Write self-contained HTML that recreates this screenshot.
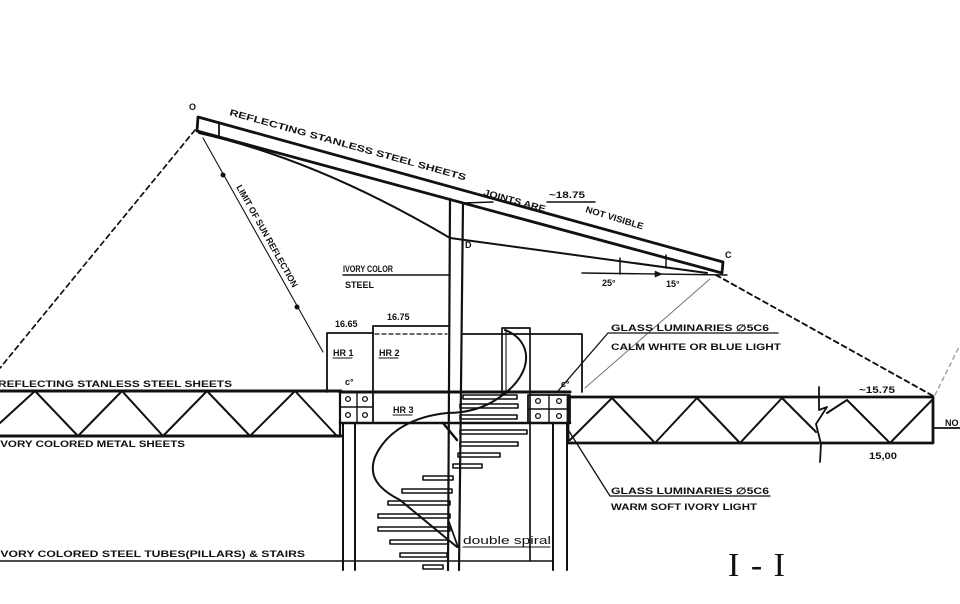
<!DOCTYPE html>
<html><head><meta charset="utf-8"><style>
html,body{margin:0;padding:0;background:#fff;}
svg{display:block;}
text{font-family:"Liberation Sans",sans-serif;fill:#111;}
.t{font-size:9px;font-weight:bold;}
</style></head><body>
<svg width="960" height="604" viewBox="0 0 960 604" xmlns="http://www.w3.org/2000/svg">
<rect width="960" height="604" fill="#fff"/>
<g stroke="#111" fill="none" stroke-linecap="round" stroke-linejoin="round">
<!-- roof -->
<polygon points="198,117 723,262 722,273 197,131" stroke-width="2.8"/>
<line x1="219" y1="123" x2="219" y2="137" stroke-width="1.8"/>
<!-- cable -->
<path d="M199,133 Q318,160 450,238 L707,273" stroke-width="2"/>
<!-- mast -->
<line x1="450" y1="199" x2="448" y2="570" stroke-width="2.2"/>
<line x1="463" y1="203" x2="459" y2="570" stroke-width="2.2"/>
<line x1="463" y1="203" x2="493" y2="202" stroke-width="1.4"/>
<line x1="547" y1="202" x2="595" y2="202" stroke-width="1.4"/>
<!-- angle dims -->
<line x1="582" y1="273" x2="727" y2="275" stroke-width="1.4"/>
<line x1="620" y1="258" x2="620" y2="274" stroke-width="1.5"/>
<line x1="666" y1="255" x2="666" y2="268" stroke-width="1.5"/>
<polygon points="662,274 655,271 655,277" fill="#111" stroke-width="0.5"/>
<!-- dashed lines -->
<line x1="195" y1="130" x2="0" y2="368" stroke-width="1.7" stroke-dasharray="5,4"/>
<line x1="716" y1="275" x2="935" y2="397" stroke-width="1.9" stroke-dasharray="5,4"/>
<line x1="935" y1="395" x2="960" y2="345" stroke="#999" stroke-width="1.3" stroke-dasharray="4,4"/>
<line x1="710" y1="279" x2="585" y2="388" stroke="#777" stroke-width="1"/>
<!-- sun reflection dim -->
<line x1="203" y1="138" x2="323" y2="352" stroke-width="1.1"/>
<circle cx="223" cy="175" r="2" fill="#111"/>
<circle cx="297" cy="307" r="2" fill="#111"/>
<!-- HR boxes -->
<polyline points="327,392 327,333 373,333 373,392" stroke-width="1.8"/>
<polyline points="373,333 373,326 448,326" stroke-width="1.8"/>
<line x1="375" y1="334" x2="447" y2="334" stroke-width="1.3" stroke-dasharray="4,3"/>
<polyline points="462,334 582,334 582,392" stroke-width="1.8"/>
<line x1="343" y1="275" x2="450" y2="275" stroke-width="1.4"/>
<!-- stair rail box -->
<polyline points="502,395 502,328 530,328 530,560" stroke-width="1.7"/>
<line x1="506" y1="330" x2="506" y2="395" stroke-width="1.1"/>
<!-- floor -->
<line x1="340" y1="392" x2="570" y2="392" stroke-width="3"/>
<line x1="340" y1="423" x2="570" y2="423" stroke-width="2.5"/>
<!-- left truss -->
<line x1="0" y1="391" x2="341" y2="391" stroke-width="3"/>
<line x1="0" y1="436" x2="341" y2="436" stroke-width="3"/>
<line x1="340" y1="391" x2="340" y2="436" stroke-width="2.2"/>
<polyline points="0,423 35,391 78,436 122,391 163,436 207,391 250,436 295,391 337,436" stroke-width="2"/>
<!-- right truss -->
<rect x="568" y="397" width="365" height="46" stroke-width="2.8"/>
<polyline points="570,440 612,398 655,443 697,398 740,443 782,398 816,432" stroke-width="2"/>
<polyline points="827,413 847,400 890,443 932,400" stroke-width="2"/>
<path d="M819,387 L819,410 L827,407 L816,424 L821,444 L820,462" stroke-width="1.8" fill="#fff"/>
<line x1="933" y1="428" x2="960" y2="428" stroke-width="1.8"/>
<!-- glyph boxes -->
<rect x="340" y="392" width="33" height="31" stroke-width="1.8"/>
<line x1="357" y1="392" x2="357" y2="423" stroke-width="1.4"/>
<line x1="340" y1="407" x2="373" y2="407" stroke-width="1.4"/>
<rect x="528" y="395" width="42" height="28" stroke-width="1.8"/>
<line x1="549" y1="395" x2="549" y2="423" stroke-width="1.4"/>
<line x1="528" y1="409" x2="570" y2="409" stroke-width="1.4"/>
<g stroke-width="1.3">
<circle cx="348" cy="399" r="2.4"/><circle cx="365" cy="399" r="2.4"/>
<circle cx="348" cy="415" r="2.4"/><circle cx="365" cy="415" r="2.4"/>
<circle cx="538" cy="401" r="2.4"/><circle cx="559" cy="401" r="2.4"/>
<circle cx="538" cy="416" r="2.4"/><circle cx="559" cy="416" r="2.4"/>
</g>
<!-- pillars -->
<line x1="343" y1="423" x2="343" y2="570" stroke-width="2"/>
<line x1="355" y1="423" x2="355" y2="570" stroke-width="2"/>
<line x1="553" y1="423" x2="553" y2="570" stroke-width="2"/>
<line x1="567" y1="423" x2="567" y2="570" stroke-width="2"/>
<line x1="0" y1="561" x2="553" y2="561" stroke-width="1.4"/>
<!-- stairs treads -->
<g stroke-width="1.6">
<rect x="463" y="395" width="54" height="4"/>
<rect x="460" y="404" width="58" height="4"/>
<rect x="460" y="415" width="57" height="4"/>
<rect x="460" y="430" width="67" height="4"/>
<rect x="460" y="442" width="58" height="4"/>
<rect x="458" y="453" width="42" height="4"/>
<rect x="453" y="464" width="29" height="4"/>
<rect x="423" y="476" width="30" height="4"/>
<rect x="402" y="489" width="50" height="4"/>
<rect x="388" y="501" width="62" height="4"/>
<rect x="378" y="514" width="72" height="4"/>
<rect x="378" y="527" width="72" height="4"/>
<rect x="390" y="540" width="58" height="4"/>
<rect x="400" y="553" width="47" height="4"/>
<rect x="423" y="565" width="20" height="4"/>
</g>
<!-- spiral -->
<path d="M505,330 C532,340 536,372 500,397 C482,410 462,413 447,413 C418,416 388,428 375,457 C368,476 378,489 400,500 L457,547" stroke-width="2"/>
<line x1="443" y1="423" x2="457" y2="440" stroke-width="2.5"/>
<line x1="449" y1="522" x2="458" y2="547" stroke-width="1.8"/>
<!-- leaders -->
<polyline points="558,391 608,333 778,333" stroke-width="1.3"/>
<polyline points="567,428 610,496 770,496" stroke-width="1.3"/>
<line x1="463" y1="547" x2="550" y2="547" stroke-width="1.1"/>
<line x1="333" y1="358" x2="352" y2="358" stroke-width="1.1"/>
<line x1="379" y1="358" x2="398" y2="358" stroke-width="1.1"/>
<line x1="393" y1="415" x2="412" y2="415" stroke-width="1.1"/>
</g>
<!-- labels -->
<text x="189" y="110" class="t">O</text>
<text x="725" y="258" class="t">C</text>
<text x="465" y="248" class="t">D</text>
<text class="t" transform="translate(229,115) rotate(15.5)" textLength="245" lengthAdjust="spacingAndGlyphs">REFLECTING STANLESS STEEL SHEETS</text>
<text class="t" transform="translate(483,195) rotate(15.5)" textLength="64" lengthAdjust="spacingAndGlyphs">JOINTS ARE</text>
<text class="t" transform="translate(585,212) rotate(17)" textLength="60" lengthAdjust="spacingAndGlyphs">NOT VISIBLE</text>
<text x="549" y="198" class="t" textLength="36" lengthAdjust="spacingAndGlyphs">~18.75</text>
<text x="602" y="286" class="t">25°</text>
<text x="666" y="287" class="t">15°</text>
<text class="t" font-size="7" transform="translate(236,187) rotate(60.7)" textLength="116" lengthAdjust="spacingAndGlyphs">LIMIT OF SUN REFLECTION</text>
<text x="343" y="272" class="t" textLength="50" lengthAdjust="spacingAndGlyphs">IVORY COLOR</text>
<text x="345" y="288" class="t">STEEL</text>
<text x="335" y="327" class="t" font-size="8">16.65</text>
<text x="387" y="320" class="t" font-size="8">16.75</text>
<text x="333" y="356" class="t" font-size="8">HR 1</text>
<text x="379" y="356" class="t" font-size="8">HR 2</text>
<text x="393" y="413" class="t" font-size="8">HR 3</text>
<text x="345" y="385" class="t" font-size="8">c°</text>
<text x="561" y="387" class="t" font-size="8">c°</text>
<text x="-2" y="387" class="t" textLength="234" lengthAdjust="spacingAndGlyphs">REFLECTING  STANLESS  STEEL  SHEETS</text>
<text x="-3" y="447" class="t" textLength="188" lengthAdjust="spacingAndGlyphs">IVORY COLORED  METAL  SHEETS</text>
<text x="-3" y="557" class="t" textLength="308" lengthAdjust="spacingAndGlyphs">IVORY COLORED  STEEL  TUBES(PILLARS)  &amp;  STAIRS</text>
<text x="611" y="331" class="t" textLength="158" lengthAdjust="spacingAndGlyphs">GLASS LUMINARIES ∅5C6</text>
<text x="611" y="350" class="t" textLength="170" lengthAdjust="spacingAndGlyphs">CALM WHITE OR BLUE LIGHT</text>
<text x="611" y="494" class="t" textLength="158" lengthAdjust="spacingAndGlyphs">GLASS LUMINARIES ∅5C6</text>
<text x="611" y="510" class="t" textLength="146" lengthAdjust="spacingAndGlyphs">WARM SOFT IVORY LIGHT</text>
<text x="859" y="393" class="t" textLength="36" lengthAdjust="spacingAndGlyphs">~15.75</text>
<text x="869" y="459" class="t" textLength="28" lengthAdjust="spacingAndGlyphs">15,00</text>
<text x="945" y="426" class="t">NO</text>
<text x="463" y="544" font-size="11" textLength="88" lengthAdjust="spacingAndGlyphs">double spiral</text>
<text x="728" y="576" style="font-family:'Liberation Serif',serif;font-size:34px;" textLength="57" lengthAdjust="spacing">I-I</text>
</svg>
</body></html>
